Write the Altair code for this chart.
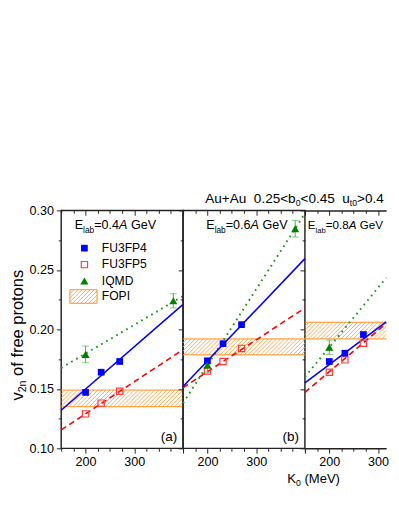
import altair as alt
import pandas as pd
import numpy as np

# ---------------- data ----------------
E_LAB = ["0.4", "0.6", "0.8"]
PANEL_TAGS = ["(a)", "(b)", "(c)"]
K0_FU = [200, 232, 270]
K0_IQMD = [200, 380]
FU3FP4 = [[0.147, 0.164, 0.173], [0.1735, 0.188, 0.204], [0.173, 0.180, 0.1957]]
FU3FP5 = [[0.129, 0.138, 0.148], [0.165, 0.173, 0.184], [0.164, 0.1744, 0.1884]]
IQMD = [[0.179, 0.224], [0.170, 0.2847], [0.185, 0.275]]
IQMD_ERR = [[0.007, 0.006], [0.006, 0.007], [0.006, 0.007]]
FOPI_LO = [0.135, 0.1786, 0.192]
FOPI_HI = [0.149, 0.192, 0.206]
FIT_K0 = [150, 400]
FIT4 = [[0.132, 0.221], [0.152, 0.2595], [0.155, 0.232]]
FIT5 = [[0.1155, 0.183], [0.151, 0.218], [0.147, 0.234]]
FITIQ = [[0.1676, 0.228], [0.138, 0.2975], [0.160, 0.285]]
X_TICKS = [150, 175, 200, 225, 250, 275, 300, 325, 350, 375, 400]
Y_TICKS = [0.10, 0.125, 0.15, 0.175, 0.20, 0.225, 0.25, 0.275, 0.30]

# ---------------- style / layout ----------------
FONT = "Liberation Sans"
W, H = 126, 246
WIDTHS = [126, 126, 84]          # last panel is cut by the page edge
X0, X1 = 150, 400
Y0, Y1 = 0.10, 0.30
BLUE = "#0000ff"
RED = "#ff0000"
RED_OPEN = "#ff3b3b"
GREEN = "#007f00"
GREEN_LINE = "#1f9a1f"
GREEN_ERR = "#4fae4f"
ORANGE = "#ff8c1a"
HATCH = "#ffa04a"
FRAME = "#222222"

E_POS = [(14, 19), (24, 19), (3, 19)]
E_SIZE = [13, 13, 12]

WID = {' ': 278, '(': 333, ')': 333, '+': 584, '.': 278, '<': 584, '=': 584, '>': 584,
       'A': 667, 'E': 667, 'G': 778, 'K': 667, 'M': 833, 'V': 667, 'a': 556, 'b': 556,
       'e': 556, 'f': 278, 'l': 222, 'n': 556, 'o': 556, 'p': 556, 'r': 333, 's': 500,
       't': 278, 'u': 556, 'v': 500}


def text_w(s, size):
    return sum(WID.get(c, 556) for c in s) * size / 1000.0


ONE = pd.DataFrame({"a": [0]})
ys = alt.Scale(domain=[Y0, Y1], nice=False, zero=False)


def rich(parts, x0, y0, angle=0):
    out = []
    pos = 0.0
    for txt, size, shift, italic in parts:
        s = txt.lstrip(" ")
        pos += text_w(txt[: len(txt) - len(s)], size)
        if angle == 0:
            x, y = x0 + pos, y0 + shift
        else:
            x, y = x0 + shift, y0 - pos
        out.append(
            alt.Chart(ONE).mark_text(
                text=s, fontSize=size, fontStyle="italic" if italic else "normal",
                align="left", baseline="alphabetic", angle=angle, font=FONT, color="black"
            ).encode(x=alt.value(x), y=alt.value(y))
        )
        pos += text_w(s, size)
    return out


def total_w(parts):
    return sum(text_w(t, s) for t, s, _, _ in parts)


def label(txt, x, y, size=12, align="left"):
    return alt.Chart(ONE).mark_text(text=txt, fontSize=size, align=align, baseline="middle",
                                    font=FONT, color="black").encode(x=alt.value(x), y=alt.value(y))


def clip_seg(xa, ya, xb, yb, lo, hi):
    """clip a straight segment to lo <= x <= hi (geometry only)"""
    if xa < lo:
        ya = ya + (yb - ya) * (lo - xa) / (xb - xa)
        xa = lo
    if xb > hi:
        yb = ya + (yb - ya) * (hi - xa) / (xb - xa)
        xb = hi
    return xa, ya, xb, yb


TICK_X = {"condition": {"test": "datum.value % 100 === 0", "value": 5}, "value": 3}
TICK_Y = {"condition": {"test": "round(datum.value * 1000) % 50 === 0", "value": 5}, "value": 3}


def panel(i):
    w = WIDTHS[i]
    xend = X0 + w * (X1 - X0) / W
    xs = alt.Scale(domain=[X0, xend], nice=False, zero=False)
    xticks = [t for t in X_TICKS if t <= xend + 1e-9]
    last = i == 2

    def X(f, axis=None):
        return alt.X(f, type="quantitative", scale=xs, axis=axis)

    def Y(f, axis=None):
        return alt.Y(f, type="quantitative", scale=ys, axis=axis)

    layers = []
    lo, hi = FOPI_LO[i], FOPI_HI[i]
    # hatched FOPI band
    mev_per_px = (X1 - X0) / W
    hpx = (hi - lo) * H / (Y1 - Y0)
    dx = hpx * mev_per_px
    step = 4.2 * mev_per_px
    segs = []
    for s in np.arange(X0 - dx, xend, step):
        a = clip_seg(float(s), lo, float(s + dx), hi, X0, xend)
        if a[2] > a[0]:
            segs.append(a)
    hatch = pd.DataFrame(segs, columns=["x", "y", "x2", "y2"])
    layers.append(alt.Chart(hatch).mark_rule(color=HATCH, strokeWidth=0.9).encode(
        x=X("x"), x2="x2", y=Y("y"), y2="y2"))
    band = pd.DataFrame({"y": [lo, hi]})
    layers.append(alt.Chart(band).mark_rule(color=ORANGE, strokeWidth=1).encode(y=Y("y")))

    # fit lines (cut at the panel edge)
    def fit_df(vals):
        xa, ya, xb, yb = clip_seg(FIT_K0[0], vals[0], FIT_K0[1], vals[1], X0, xend)
        return pd.DataFrame({"x": [xa, xb], "y": [ya, yb]})

    layers.append(alt.Chart(fit_df(FITIQ[i])).mark_line(color=GREEN_LINE, strokeWidth=2,
                                                        strokeDash=[1.8, 4.2]).encode(x=X("x"), y=Y("y")))
    layers.append(alt.Chart(fit_df(FIT5[i])).mark_line(color=RED, strokeWidth=1.6,
                                                       strokeDash=[6, 4]).encode(x=X("x"), y=Y("y")))
    layers.append(alt.Chart(fit_df(FIT4[i])).mark_line(color=BLUE, strokeWidth=1.6)
                  .encode(x=X("x"), y=Y("y")))

    # IQMD with error bars (only points inside this panel)
    iq = pd.DataFrame({"x": K0_IQMD, "y": IQMD[i], "e": IQMD_ERR[i]})
    iq = iq[iq["x"] <= xend]
    iq["lo"] = iq["y"] - iq["e"]
    iq["hi"] = iq["y"] + iq["e"]
    layers.append(alt.Chart(iq).mark_rule(color=GREEN_ERR, strokeWidth=1).encode(
        x=X("x"), y=Y("lo"), y2="hi"))
    layers.append(alt.Chart(iq).mark_tick(color=GREEN_ERR, orient="horizontal", size=7, thickness=1)
                  .encode(x=X("x"), y=Y("lo")))
    layers.append(alt.Chart(iq).mark_tick(color=GREEN_ERR, orient="horizontal", size=7, thickness=1)
                  .encode(x=X("x"), y=Y("hi")))

    fu4 = pd.DataFrame({"x": K0_FU, "y": FU3FP4[i]})
    fu5 = pd.DataFrame({"x": K0_FU, "y": FU3FP5[i]})
    layers.append(alt.Chart(fu5).mark_point(shape="square", filled=False, size=42, color=RED_OPEN,
                                            strokeWidth=1.2, opacity=1).encode(x=X("x"), y=Y("y")))
    layers.append(alt.Chart(fu4).mark_point(shape="square", filled=True, size=48, color=BLUE,
                                            opacity=1).encode(x=X("x"), y=Y("y")))
    layers.append(alt.Chart(iq).mark_point(shape="triangle-up", filled=True, size=70, color=GREEN,
                                           opacity=1).encode(x=X("x"), y=Y("y")))

    # E_lab label
    ex, ey = E_POS[i]
    es = E_SIZE[i]
    layers += rich([("E", es, 0, False), ("lab", es * 0.66, 4, False), ("=" + E_LAB[i], es, 0, False),
                    ("A", es, 0, True), (" GeV", es, 0, False)], ex, ey)
    # panel tag
    if not last:
        layers.append(label(PANEL_TAGS[i], W - 6, H - 12, size=14, align="right"))

    if i == 0:
        # legend
        layers.append(alt.Chart(ONE).mark_point(shape="square", filled=True, size=48, color=BLUE, opacity=1)
                      .encode(x=alt.value(24), y=alt.value(39)))
        layers.append(alt.Chart(ONE).mark_point(shape="square", filled=False, size=42, color=RED_OPEN,
                                                strokeWidth=1.2, opacity=1)
                      .encode(x=alt.value(24), y=alt.value(56)))
        layers.append(alt.Chart(ONE).mark_point(shape="triangle-up", filled=True, size=70, color=GREEN, opacity=1)
                      .encode(x=alt.value(24), y=alt.value(73)))
        rx0, rx1, ry0, ry1 = 9, 37, 82, 96
        hh = ry1 - ry0
        for k in np.arange(rx0 - hh, rx1, 4.2):
            xa, ya, xb, yb = clip_seg(float(k), ry1, float(k + hh), ry0, rx0, rx1)
            layers.append(alt.Chart(ONE).mark_rule(color=HATCH, strokeWidth=0.9).encode(
                x=alt.value(xa), x2=alt.value(xb), y=alt.value(ya), y2=alt.value(yb)))
        layers.append(alt.Chart(ONE).mark_rect(fill=None, stroke=ORANGE, strokeWidth=1).encode(
            x=alt.value(rx0), x2=alt.value(rx1), y=alt.value(ry0), y2=alt.value(ry1)))
        for txt, yy in [("FU3FP4", 39), ("FU3FP5", 56), ("IQMD", 73), ("FOPI", 89)]:
            layers.append(label(txt, 42, yy, size=12.5))
        # y axis title
        yparts = [("v", 17, 0, False), ("2n", 11, 4, False), (" of free protons", 17, 0, False)]
        layers += rich(yparts, -40, 129 + total_w(yparts) / 2, angle=270)
    if i == 1:
        tparts = [("Au+Au", 14, 0, False), ("  0.25<b", 14, 0, False), ("0", 9, 3.5, False),
                  ("<0.45", 14, 0, False), ("  u", 14, 0, False), ("t0", 9, 3.5, False),
                  (">0.4", 14, 0, False)]
        layers += rich(tparts, 23, -8)
    if i == 2:
        xparts = [("K", 13.5, 0, False), ("0", 9, 3, False), (" (MeV)", 13.5, 0, False)]
        layers += rich(xparts, 9 - total_w(xparts) / 2, 282)

    # axes
    dummy = pd.DataFrame({"x": [X0], "y": [Y0]})
    ax_bottom = alt.Axis(orient="bottom", values=xticks, tickSize=TICK_X,
                         labelExpr="(datum.value === 200 || datum.value === 300) ? datum.label : ''",
                         domain=last, domainColor=FRAME, domainWidth=1.5,
                         grid=False, title=None, labelFontSize=13, labelPadding=3,
                         labelOverlap=False, labelFlush=False, minExtent=0)
    ax_top = alt.Axis(orient="bottom", offset=-H, values=xticks, tickSize=TICK_X, labels=False,
                      domain=last, domainColor=FRAME, domainWidth=1.5, grid=False, title=None,
                      minExtent=0, maxExtent=0)
    ax_left = alt.Axis(orient="left", values=Y_TICKS, tickSize=TICK_Y, format=".2f",
                       labelExpr="round(datum.value * 1000) % 50 === 0 ? datum.label : ''",
                       labels=(i == 0), domain=False, grid=False, title=None, labelFontSize=13,
                       labelPadding=3, labelOverlap=False, labelFlush=False, minExtent=0)
    layers.append(alt.Chart(dummy).mark_point(opacity=0).encode(x=X("x", ax_bottom), y=Y("y", ax_left)))
    layers.append(alt.Chart(dummy).mark_point(opacity=0).encode(x=X("x", ax_top), y=Y("y")))

    ch = alt.layer(*layers).resolve_axis(x="independent", y="independent").properties(width=w, height=H)
    if last:
        ch = ch.properties(view=alt.ViewBackground(stroke="transparent"))
    return ch


chart = alt.hconcat(*[panel(i) for i in range(3)], spacing=0, bounds="flush").properties(
    padding={"left": 0, "top": 181, "right": 0, "bottom": 0}
).configure_view(stroke=FRAME, strokeWidth=1.5).configure_axis(
    tickColor=FRAME, tickWidth=1, labelFont=FONT, labelColor="black"
)

chart.save("out.html", embed_options={"renderer": "svg", "actions": False})
